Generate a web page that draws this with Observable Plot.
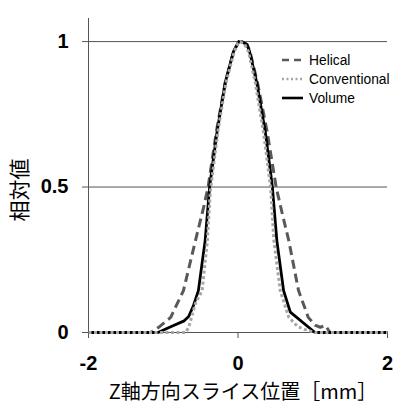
<!DOCTYPE html>
<html>
<head>
<meta charset="utf-8">
<script src="https://cdn.jsdelivr.net/npm/d3@7"></script>
<script src="https://cdn.jsdelivr.net/npm/@observablehq/plot@0.6"></script>
<style>
  html, body { margin: 0; padding: 0; background: #fff; }
  #chart { width: 394px; height: 403px; }
</style>
</head>
<body>
<div id="chart"></div>
<script>
// ---- Data ----
const seriesNames = ["Helical", "Conventional", "Volume"];

const helicalX = [-2, -1.17, -1.05, -0.90, -0.73, -0.57, -0.46, -0.40, -0.29, -0.17, -0.06, 0.01, 0.05, 0.12, 0.16, 0.26, 0.39, 0.51, 0.60, 0.68, 0.81, 0.94, 1.03, 1.10, 1.17, 1.23, 2];
const helicalY = [0, 0, 0.02, 0.052, 0.144, 0.315, 0.43, 0.5, 0.69, 0.86, 0.966, 1.0, 1.0, 0.99, 0.966, 0.86, 0.69, 0.5, 0.40, 0.315, 0.144, 0.052, 0.025, 0.018, 0.024, 0, 0];

const conventionalX = [-2, -0.70, -0.66, -0.64, -0.57, -0.48, -0.41, -0.37, -0.27, -0.16, -0.05, 0.0, 0.03, 0.09, 0.14, 0.23, 0.34, 0.435, 0.48, 0.565, 0.68, 0.80, 0.90, 1.03, 2];
const conventionalY = [0, 0, 0.018, 0.035, 0.10, 0.144, 0.315, 0.486, 0.69, 0.86, 0.966, 0.995, 1.0, 0.99, 0.966, 0.86, 0.69, 0.5, 0.315, 0.144, 0.052, 0.02, 0.01, 0, 0];

const volumeX = [-2, -1.07, -0.90, -0.72, -0.66, -0.60, -0.53, -0.44, -0.38, -0.28, -0.17, -0.06, 0.01, 0.05, 0.12, 0.155, 0.25, 0.365, 0.46, 0.52, 0.61, 0.70, 1.03, 2];
const volumeY = [0, 0, 0.02, 0.04, 0.055, 0.09, 0.144, 0.315, 0.5, 0.69, 0.86, 0.966, 1.0, 1.0, 0.99, 0.966, 0.86, 0.69, 0.5, 0.315, 0.144, 0.07, 0, 0];

const yTicks = [0, 0.5, 1];
const xTicks = [-2, 0, 2];
const xLabel = "Z軸方向スライス位置［mm］";
const yLabel = "相対値";

// ---- Build tables ----
const toRows = (xs, ys, name) => xs.map((x, i) => ({x, y: ys[i], series: name}));
const helical = toRows(helicalX, helicalY, "Helical");
const conventional = toRows(conventionalX, conventionalY, "Conventional");
const volume = toRows(volumeX, volumeY, "Volume");

const styles = {
  Helical: {stroke: "#595959", strokeWidth: 3, strokeDasharray: "9,5", strokeLinecap: "butt"},
  Conventional: {stroke: "#a6a6a6", strokeWidth: 3, strokeDasharray: "3,2.5", strokeLinecap: "butt"},
  Volume: {stroke: "#000000", strokeWidth: 2.8, strokeDasharray: null, strokeLinecap: "butt"}
};

const chart = Plot.plot({
  width: 394,
  height: 403,
  marginLeft: 88,
  marginRight: 7,
  marginTop: 12,
  marginBottom: 71,
  style: {fontFamily: "'Liberation Sans', Arial, sans-serif", fontSize: "20px", fontWeight: "bold", color: "#000", background: "#fff"},
  x: {domain: [-2, 2]},
  y: {domain: [0, 1.1]},
  marks: [
    Plot.ruleY([0.5, 1], {stroke: "#555", strokeWidth: 1, strokeOpacity: 1}),
    Plot.axisY({ticks: yTicks, tickSize: 6, tickPadding: 14, tickFormat: d => String(d), label: null, stroke: "#555", strokeOpacity: 1, fill: "#000"}),
    Plot.axisX({ticks: xTicks, tickSize: 6, tickPadding: 17, tickFormat: d => String(d), label: null, stroke: "#555", strokeOpacity: 1, fill: "#000"}),
    Plot.ruleX([-2], {stroke: "#555", strokeWidth: 1, y1: 0, y2: 1.1, insetBottom: -6}),
    Plot.ruleY([0], {stroke: "#555", strokeWidth: 1}),
    Plot.line(helical, {x: "x", y: "y", ...styles.Helical}),
    Plot.line(volume, {x: "x", y: "y", ...styles.Volume}),
    Plot.line(conventional, {x: "x", y: "y", ...styles.Conventional})
  ]
});

document.getElementById("chart").appendChild(chart);

// ---- Axis titles and legend ----
const svg = d3.select(chart);
svg.append("text")
  .attr("transform", "translate(18,190) rotate(-90)")
  .attr("text-anchor", "middle")
  .attr("dominant-baseline", "central")
  .style("font-family", "'Noto Sans CJK JP', sans-serif")
  .style("font-size", "21px")
  .style("font-weight", "normal")
  .attr("fill", "#000")
  .text(yLabel);

svg.append("text")
  .attr("x", 243)
  .attr("y", 390)
  .attr("text-anchor", "middle")
  .attr("dominant-baseline", "central")
  .style("font-family", "'Noto Sans CJK JP', sans-serif")
  .style("font-size", "20px")
  .style("font-weight", "normal")
  .attr("fill", "#000")
  .text(xLabel);

const legend = svg.append("g");
seriesNames.forEach((name, i) => {
  const yy = 60 + i * 19;
  const s = styles[name];
  legend.append("line")
    .attr("x1", 282).attr("x2", 303).attr("y1", yy).attr("y2", yy)
    .attr("stroke", s.stroke)
    .attr("stroke-width", name === "Volume" ? 2.6 : 2.5)
    .attr("stroke-dasharray", name === "Helical" ? "7,5" : (name === "Conventional" ? "2,2.5" : null));
  legend.append("text")
    .attr("x", 309).attr("y", yy)
    .attr("text-anchor", "start")
    .attr("dominant-baseline", "central")
    .style("font-family", "'Liberation Sans', Arial, sans-serif")
    .style("font-size", "13.8px")
    .style("font-weight", "normal")
    .attr("fill", "#000")
    .text(name);
});
</script>
</body>
</html>
